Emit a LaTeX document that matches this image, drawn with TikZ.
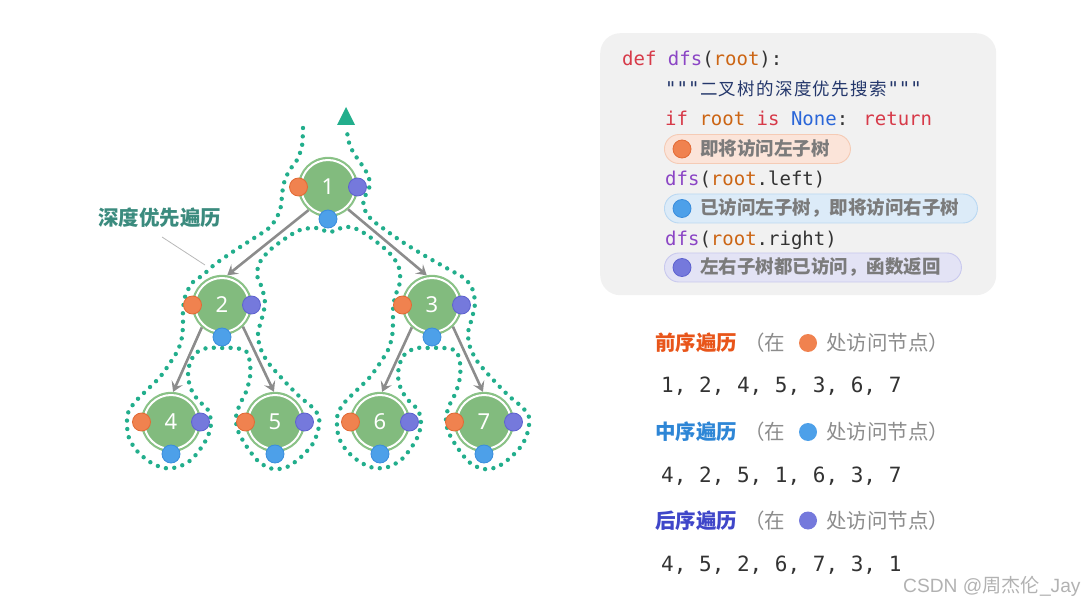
\documentclass[tikz,border=0pt]{standalone}
\usepackage{fontspec}
\setmainfont{Noto Sans}
\newfontfamily\cjk{Noto Sans CJK SC}
\newfontfamily\mono{DejaVu Sans Mono}
\newfontfamily\wmfont{Liberation Sans}
\usetikzlibrary{arrows.meta}
\definecolor{nodegreen}{HTML}{82BB7E}
\definecolor{nodeborder}{HTML}{8CC489}
\definecolor{dotorange}{HTML}{F0824F}
\definecolor{dotorangeD}{HTML}{E26A35}
\definecolor{dotblue}{HTML}{4DA0E9}
\definecolor{dotblueD}{HTML}{3A8DDC}
\definecolor{dotpurple}{HTML}{7579DC}
\definecolor{dotpurpleD}{HTML}{5E62CF}
\definecolor{contourcol}{HTML}{22AE8C}
\definecolor{edgegray}{HTML}{8C8C8C}
\definecolor{codebg}{HTML}{F1F1F1}
\definecolor{ckwcol}{HTML}{D73A49}
\definecolor{cfncol}{HTML}{8B45C5}
\definecolor{cvarcol}{HTML}{CC6514}
\definecolor{cnonecol}{HTML}{2A66D8}
\definecolor{cdoccol}{HTML}{24376B}
\definecolor{cplain}{HTML}{333333}
\definecolor{pilltext}{HTML}{7B7B7B}
\definecolor{pillOfill}{HTML}{FBE4D9}
\definecolor{pillOdraw}{HTML}{F5CBB5}
\definecolor{pillBfill}{HTML}{DCEBF8}
\definecolor{pillBdraw}{HTML}{BAD8F2}
\definecolor{pillPfill}{HTML}{E3E3F5}
\definecolor{pillPdraw}{HTML}{C9C9EE}
\definecolor{preCol}{HTML}{E8551A}
\definecolor{inCol}{HTML}{2E86D6}
\definecolor{postCol}{HTML}{3F46C9}
\definecolor{parenGray}{HTML}{8C8C8C}
\definecolor{seqCol}{HTML}{333333}
\definecolor{labelTeal}{HTML}{3B8B7E}
\newcommand\ckw[1]{\textcolor{ckwcol}{#1}}
\newcommand\cfn[1]{\textcolor{cfncol}{#1}}
\newcommand\cvar[1]{\textcolor{cvarcol}{#1}}
\newcommand\cnone[1]{\textcolor{cnonecol}{#1}}
\newcommand\wc[1]{\makebox[18.8pt]{#1}}
\begin{document}
\begin{tikzpicture}[x=1pt,y=-1pt,
  treenode/.style={circle, minimum size=59pt, inner sep=0pt, fill=nodegreen, draw=nodeborder, line width=1.3pt, text=white, font=\fontsize{22}{24}\selectfont},
  dotO/.style={circle, minimum size=18pt, inner sep=0pt, fill=dotorange, draw=dotorangeD, line width=0.8pt},
  dotB/.style={circle, minimum size=18pt, inner sep=0pt, fill=dotblue, draw=dotblueD, line width=0.8pt},
  dotP/.style={circle, minimum size=18pt, inner sep=0pt, fill=dotpurple, draw=dotpurpleD, line width=0.8pt},
  treeedge/.style={edgegray, line width=2.6pt, -{Stealth[length=10pt,width=12pt,inset=4pt]}},
  contour/.style={contourcol, line width=4.4pt, line cap=round, dash pattern=on 0pt off 8.4pt},
  code/.style={anchor=base west, inner sep=0pt, text=cplain, font=\mono\fontsize{19}{22}\selectfont},
  pilltxt/.style={anchor=base west, inner sep=0pt, text=pilltext, font=\cjk\bfseries\fontsize{18.5}{22}\selectfont},
  pillbox/.style={rounded corners=14.5pt, line width=0.9pt, minimum height=29pt, anchor=west, inner sep=0pt},
  head/.style={anchor=base west, inner sep=0pt, font=\cjk\bfseries\fontsize{20.5}{24}\selectfont},
  paren/.style={anchor=base west, inner sep=0pt, text=parenGray, font=\cjk\fontsize{20.5}{24}\selectfont},
  seq/.style={anchor=base west, inner sep=0pt, text=seqCol, font=\mono\fontsize{21}{24}\selectfont},
  legdot/.style={circle, minimum size=18pt, inner sep=0pt}
]
\useasboundingbox (0,0) rectangle (1085,604);

% ---------- contour (Euler tour) ----------
\draw[contour] plot[smooth, tension=0.5] coordinates {
(303,128) (302,146) (297,160) (289,171) (284,183) (282,195) (281,206) (277,217) (269,228) (251,240) (231,253) (214,265) (203,275)
(192,283) (185,297) (183,310) (183,323) (182,337) (178,350) (170,363) (160,377) (147,390) (135,402) (128,413) (127,425) (129,438) (137,451) (150,462) (164,468) (178,467) (191,460) (201,448) (208,436) (211,423) (208,410) (198,400) (191,389) (188,376) (190,363) (196,353) (207,348) (220,348) (234,348) (246,351) (250,363) (250,377) (246,392) (240,404) (236,417) (238,431) (247,447) (259,462) (273,469) (287,467) (300,458) (312,445) (318,431) (319,417) (312,407) (300,397) (289,386) (277,373) (267,361) (260,347) (258,333) (262,318) (265,303) (262,288) (257,275)
(260,262) (270,250) (286,238) (300,230) (316,228) (330,232) (344,227) (354,228) (364,233) (374,240) (384,248) (393,257) (399,268) (400,282)
(395,297) (393,310) (393,323) (392,337) (388,350) (380,363) (370,377) (357,390) (345,402) (338,413) (337,425) (339,438) (347,451) (360,462) (374,468) (388,467) (401,460) (411,448) (418,436) (421,423) (418,410) (408,400) (401,389) (398,376) (400,363) (406,353) (417,348) (430,348) (444,348) (456,351) (460,363) (460,377) (456,392) (450,404) (446,417) (448,431) (457,447) (469,462) (483,469) (497,467) (510,458) (522,445) (528,431) (529,417) (522,407) (510,397) (499,386) (487,373) (477,361) (470,347) (468,333) (472,318) (475,303) (472,288)
(464,278) (450,270) (427,257) (404,243) (384,229) (371,219) (364,208) (364,198) (369,189) (369,178) (364,168) (357,158) (350,146) (347,132)};
\coordinate (tip) at (346,116);
\fill[contourcol] (tip) ++(-9,9) -- ++(9,-18) -- ++(9,18) -- cycle;

% ---------- tree nodes ----------
\foreach \n/\x/\y in {1/328/187, 2/222/305, 3/432/305, 4/171/422, 5/275/422, 6/380/422, 7/484/422} {
  \node[treenode] (n\n) at (\x,\y) {\n};
  \draw[white, line width=2pt] (n\n.center) circle (27pt);
}
\draw[treeedge] (n1.230) -- (n2.80);
\draw[treeedge] (n1.312) -- (n3.100);
\draw[treeedge] (n2.228) -- (n4.86);
\draw[treeedge] (n2.314) -- (n5.92);
\draw[treeedge] (n3.228) -- (n6.86);
\draw[treeedge] (n3.314) -- (n7.92);
\foreach \n/\x/\y in {1/328/187, 2/222/305, 3/432/305, 4/171/422, 5/275/422, 6/380/422, 7/484/422} {
  \node[dotO] (o\n) at (\x-29.5,\y) {};
  \node[dotP] (p\n) at (\x+29.5,\y) {};
  \node[dotB] (b\n) at (\x,\y+32) {};
}

% ---------- label ----------
\node[anchor=base west, inner sep=0pt, text=labelTeal, font=\cjk\bfseries\fontsize{20.5}{24}\selectfont] (lbl) at (98,226) {深度优先遍历};
\coordinate (lblA) at (162,237);
\coordinate (lblB) at (205,265);
\draw[black!28, line width=0.8pt] (lblA) -- (lblB);

% ---------- code box ----------
\node[fill=codebg, rounded corners=20pt, minimum width=396pt, minimum height=262pt, anchor=north west, inner sep=0pt] (codebox) at (600,33) {};
\node[code] (c1) at (622,66) {\ckw{def} \cfn{dfs}(\cvar{root}):};
\node[code, text=cdoccol] (c2) at (665,96) {"""{\cjk\fontsize{17.5}{22}\selectfont\wc{二}\wc{叉}\wc{树}\wc{的}\wc{深}\wc{度}\wc{优}\wc{先}\wc{搜}\wc{索}}"""};
\node[code] (c3) at (665,126) {\ckw{if} \cvar{root} \ckw{is} \cnone{None}: \ckw{return}};
\node[pillbox, fill=pillOfill, draw=pillOdraw, minimum width=186pt] (pill1) at (664,149) {};
\node[legdot, fill=dotorange, draw=dotorangeD, line width=0.8pt] (pd1) at (682,149) {};
\node[pilltxt] (pt1) at (700,155.5) {即将访问左子树};
\node[code] (c5) at (665,186) {\cfn{dfs}(\cvar{root}.left)};
\node[pillbox, fill=pillBfill, draw=pillBdraw, minimum width=313pt] (pill2) at (664,208.5) {};
\node[legdot, fill=dotblue, draw=dotblueD, line width=0.8pt] (pd2) at (682,208.5) {};
\node[pilltxt] (pt2) at (700,215) {已访问左子树，即将访问右子树};
\node[code] (c7) at (665,246) {\cfn{dfs}(\cvar{root}.right)};
\node[pillbox, fill=pillPfill, draw=pillPdraw, minimum width=297pt] (pill3) at (664,267.5) {};
\node[legdot, fill=dotpurple, draw=dotpurpleD, line width=0.8pt] (pd3) at (682,267.5) {};
\node[pilltxt] (pt3) at (700,274) {左右子树都已访问，函数返回};

% ---------- traversal orders ----------
\node[head, text=preCol] (h1) at (655,350.5) {前序遍历};
\node[paren] (q1) at (744,350.5) {（在};
\node[legdot, fill=dotorange] (ld1) at (808,343) {};
\node[paren] (r1) at (826,350.5) {处访问节点）};
\node[seq] (s1) at (661,392) {1, 2, 4, 5, 3, 6, 7};

\node[head, text=inCol] (h2) at (655,439.5) {中序遍历};
\node[paren] (q2) at (744,439.5) {（在};
\node[legdot, fill=dotblue] (ld2) at (808,432) {};
\node[paren] (r2) at (826,439.5) {处访问节点）};
\node[seq] (s2) at (661,482) {4, 2, 5, 1, 6, 3, 7};

\node[head, text=postCol] (h3) at (655,528) {后序遍历};
\node[paren] (q3) at (744,528) {（在};
\node[legdot, fill=dotpurple] (ld3) at (808,520.5) {};
\node[paren] (r3) at (826,528) {处访问节点）};
\node[seq] (s3) at (661,571) {4, 5, 2, 6, 7, 3, 1};

% ---------- watermark ----------
\node[anchor=base west, inner sep=0pt, text=black!30] (wm) at (903,592) {\wmfont\fontsize{19.2}{21}\selectfont CSDN @{\cjk 周杰伦}\_Jay};
\end{tikzpicture}
\end{document}
